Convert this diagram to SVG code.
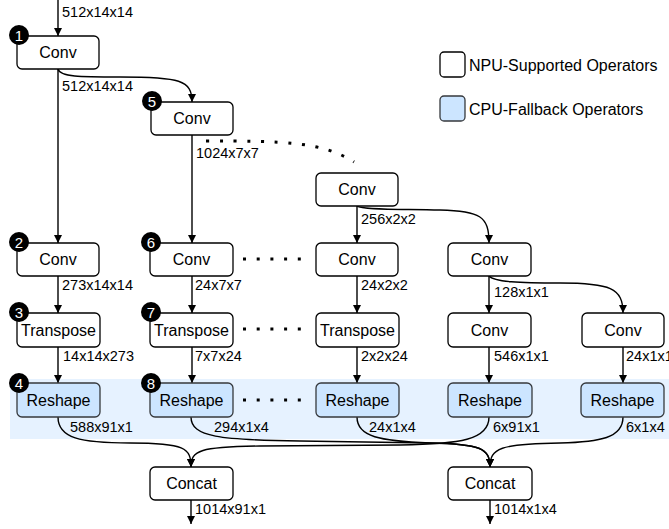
<svg xmlns="http://www.w3.org/2000/svg" width="669" height="529" viewBox="0 0 669 529">
<defs>
<marker id="ah" viewBox="0 0 10 10" refX="10" refY="5" markerWidth="8" markerHeight="8" markerUnits="userSpaceOnUse" orient="auto">
<path d="M0,0 L10,5 L0,10 Z" fill="#000"/>
</marker>
<style>
.box{fill:#fff;stroke:#000;stroke-width:1.3}
.cpu{fill:#cce5ff;stroke:#36393d;stroke-width:1.3}
.nt{font-family:"Liberation Sans",Arial,sans-serif;font-size:16px;fill:#000;text-anchor:middle}
.lb{font-family:"Liberation Sans",Arial,sans-serif;font-size:14.5px;fill:#000}
.lg{font-family:"Liberation Sans",Arial,sans-serif;font-size:16px;fill:#000}
.bd{fill:#000}
.bn{font-family:"Liberation Sans",Arial,sans-serif;font-size:15px;fill:#fff;text-anchor:middle}
.e{fill:none;stroke:#000;stroke-width:1.4;marker-end:url(#ah)}
.dot{fill:none;stroke:#000;stroke-width:3;stroke-dasharray:3 10.7}
</style>
</defs>
<rect x="10" y="379" width="659" height="60" fill="#e6f2ff"/>
<g id="legend">
<rect x="440" y="52" width="25" height="25" rx="4" class="box"/>
<text x="469" y="70.5" class="lg">NPU-Supported Operators</text>
<rect x="440" y="96" width="25" height="25" rx="4" class="cpu"/>
<text x="469" y="114.5" class="lg">CPU-Fallback Operators</text>
</g>
<g id="connectors">
<path class="e" d="M58,0 L58,36"/>
<path class="e" d="M58,69 L58,243"/>
<path class="e" d="M58,69 C60,77 80,77 120,77 C180,77 192,80 192,102"/>
<path class="e" d="M192,135 L192,243"/>
<path class="dot" d="M206,141 C280,141 322,141 354,162"/>
<path class="e" d="M357,206 L357,243"/>
<path class="e" d="M357,206 C362,210 400,209 440,210 C480,211 489,216 489,243"/>
<path class="e" d="M58,276 L58,313"/>
<path class="e" d="M192,276 L192,313"/>
<path class="e" d="M357,276 L357,313"/>
<path class="e" d="M489,276 L489,313"/>
<path class="e" d="M489,276 C494,282 520,283 560,283 C610,283 623,288 623,313"/>
<path class="e" d="M58,347 L58,383"/>
<path class="e" d="M192,347 L192,383"/>
<path class="e" d="M357,347 L357,383"/>
<path class="e" d="M489,347 L489,383"/>
<path class="e" d="M623,347 L623,383"/>
<path class="dot" d="M243,259 L302,259"/>
<path class="dot" d="M243,329 L302,329"/>
<path class="dot" d="M243,400 L302,400"/>
<path class="e" d="M58,417 C58,438 80,443 130,443 C185,443 191,448 191,467"/>
<path class="e" d="M489,417 C489,440 460,444 400,445 L260,446 C200,447 191,450 191,467"/>
<path class="e" d="M191,417 C191,437 220,440 300,441 L430,443 C480,444 490,448 490,467"/>
<path class="e" d="M357,417 C357,437 380,441 430,443 C480,444 490,448 490,467"/>
<path class="e" d="M623,417 C623,438 600,442 560,443 C500,444 490,448 490,467"/>
<path class="e" d="M191,500 L191,524"/>
<path class="e" d="M490,500 L490,524"/>
</g>
<g id="conv1"><rect x="17" y="36" width="82" height="33" rx="5" class="box"/><text x="58" y="58" class="nt">Conv</text></g>
<g id="conv5"><rect x="151" y="102" width="82" height="33" rx="5" class="box"/><text x="192" y="124" class="nt">Conv</text></g>
<g id="convA"><rect x="316" y="173" width="82" height="33" rx="5" class="box"/><text x="357" y="195" class="nt">Conv</text></g>
<g id="conv2"><rect x="17" y="243" width="82" height="33" rx="5" class="box"/><text x="58" y="265" class="nt">Conv</text></g>
<g id="conv6"><rect x="150" y="243" width="83" height="33" rx="5" class="box"/><text x="191.5" y="265" class="nt">Conv</text></g>
<g id="convB"><rect x="316" y="243" width="82" height="33" rx="5" class="box"/><text x="357" y="265" class="nt">Conv</text></g>
<g id="convC"><rect x="448" y="243" width="83" height="33" rx="5" class="box"/><text x="489.5" y="265" class="nt">Conv</text></g>
<g id="transpose3"><rect x="17" y="313" width="83" height="34" rx="5" class="box"/><text x="58.5" y="335.5" class="nt">Transpose</text></g>
<g id="transpose7"><rect x="150" y="313" width="83" height="34" rx="5" class="box"/><text x="191.5" y="335.5" class="nt">Transpose</text></g>
<g id="transposeB"><rect x="316" y="313" width="83" height="34" rx="5" class="box"/><text x="357.5" y="335.5" class="nt">Transpose</text></g>
<g id="convD"><rect x="448" y="313" width="83" height="34" rx="5" class="box"/><text x="489.5" y="335.5" class="nt">Conv</text></g>
<g id="convE"><rect x="582" y="313" width="82" height="34" rx="5" class="box"/><text x="623" y="335.5" class="nt">Conv</text></g>
<g id="reshape4"><rect x="17" y="383" width="83" height="34" rx="5" class="cpu"/><text x="58.5" y="405.5" class="nt">Reshape</text></g>
<g id="reshape8"><rect x="150" y="383" width="83" height="34" rx="5" class="cpu"/><text x="191.5" y="405.5" class="nt">Reshape</text></g>
<g id="reshapeB"><rect x="316" y="383" width="83" height="34" rx="5" class="cpu"/><text x="357.5" y="405.5" class="nt">Reshape</text></g>
<g id="reshapeC"><rect x="448" y="383" width="84" height="34" rx="5" class="cpu"/><text x="490" y="405.5" class="nt">Reshape</text></g>
<g id="reshapeD"><rect x="581" y="383" width="83" height="34" rx="5" class="cpu"/><text x="622.5" y="405.5" class="nt">Reshape</text></g>
<g id="concat1"><rect x="150" y="467" width="83" height="33" rx="5" class="box"/><text x="191.5" y="489" class="nt">Concat</text></g>
<g id="concat2"><rect x="448" y="467" width="84" height="33" rx="5" class="box"/><text x="490" y="489" class="nt">Concat</text></g>
<g id="badges">
<circle cx="19" cy="35" r="10" class="bd"/><text x="19" y="40.5" class="bn">1</text>
<circle cx="19" cy="242" r="10" class="bd"/><text x="19" y="247.5" class="bn">2</text>
<circle cx="19" cy="312" r="10" class="bd"/><text x="19" y="317.5" class="bn">3</text>
<circle cx="19" cy="383" r="10" class="bd"/><text x="19" y="388.5" class="bn">4</text>
<circle cx="152" cy="101" r="10" class="bd"/><text x="152" y="106.5" class="bn">5</text>
<circle cx="151" cy="242" r="10" class="bd"/><text x="151" y="247.5" class="bn">6</text>
<circle cx="151" cy="312" r="10" class="bd"/><text x="151" y="317.5" class="bn">7</text>
<circle cx="151" cy="383" r="10" class="bd"/><text x="151" y="388.5" class="bn">8</text>
</g>
<g id="labels">
<text x="62" y="17" class="lb">512x14x14</text>
<text x="62" y="91" class="lb">512x14x14</text>
<text x="196" y="158" class="lb">1024x7x7</text>
<text x="361" y="224" class="lb">256x2x2</text>
<text x="62" y="290" class="lb">273x14x14</text>
<text x="195" y="290" class="lb">24x7x7</text>
<text x="361" y="290" class="lb">24x2x2</text>
<text x="494" y="297" class="lb">128x1x1</text>
<text x="63" y="361" class="lb">14x14x273</text>
<text x="195" y="361" class="lb">7x7x24</text>
<text x="361" y="361" class="lb">2x2x24</text>
<text x="494" y="361" class="lb">546x1x1</text>
<text x="626" y="361" class="lb">24x1x1</text>
<text x="70" y="432" class="lb">588x91x1</text>
<text x="214" y="432" class="lb">294x1x4</text>
<text x="369" y="432" class="lb">24x1x4</text>
<text x="493" y="432" class="lb">6x91x1</text>
<text x="626" y="432" class="lb">6x1x4</text>
<text x="195" y="514" class="lb">1014x91x1</text>
<text x="494" y="514" class="lb">1014x1x4</text>
</g>
</svg>
